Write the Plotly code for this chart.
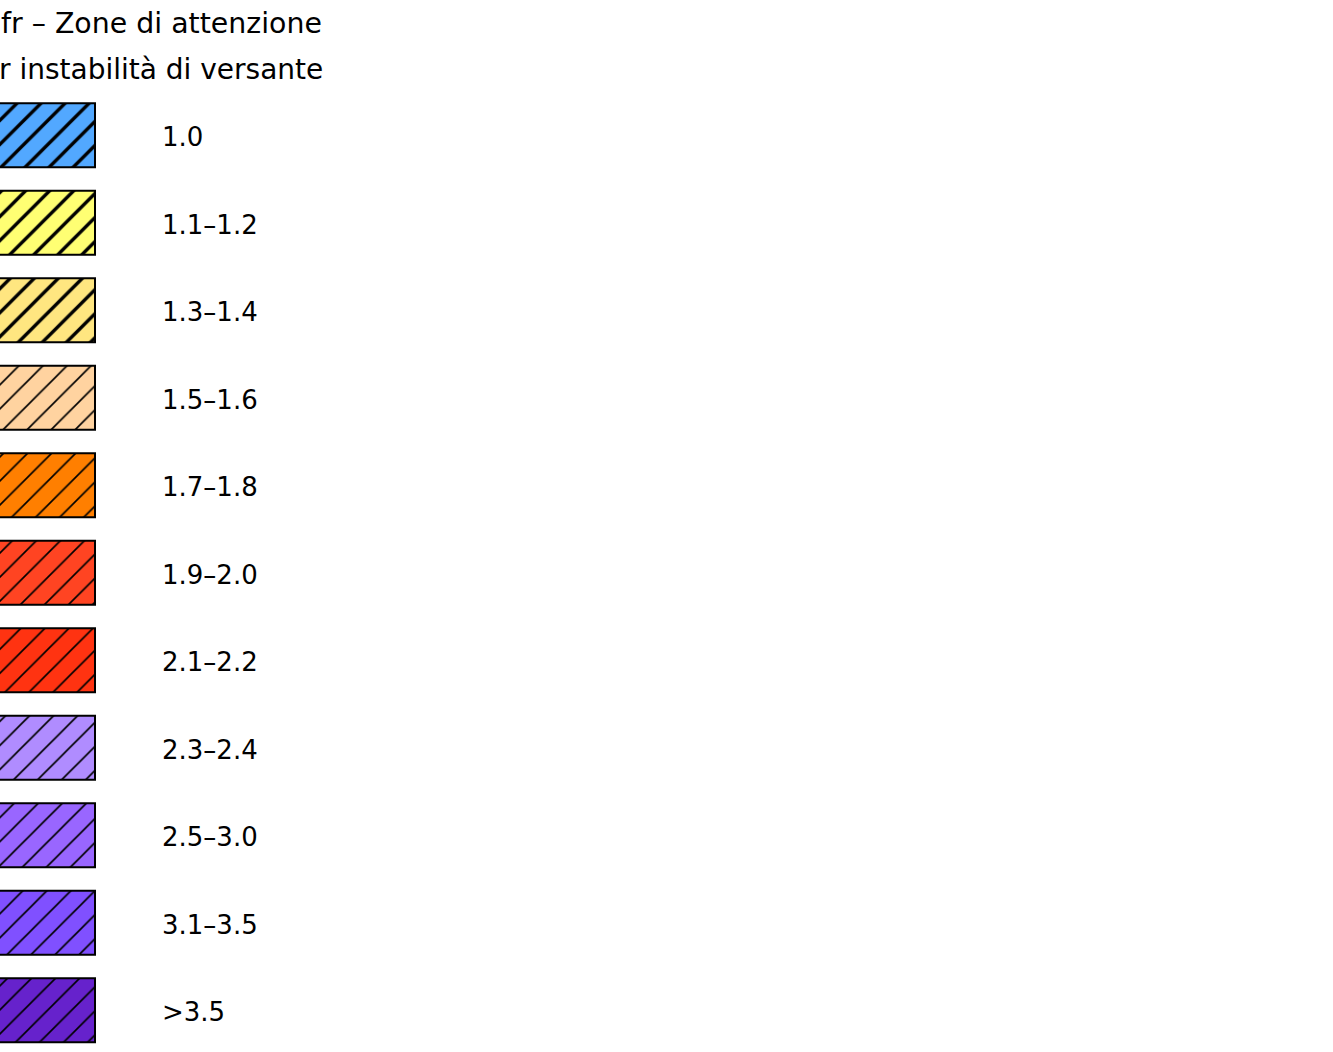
import plotly.graph_objects as go

# ---- data ----
classes = ["1.0", "1.1–1.2", "1.3–1.4", "1.5–1.6", "1.7–1.8", "1.9–2.0",
           "2.1–2.2", "2.3–2.4", "2.5–3.0", "3.1–3.5", ">3.5"]
colors = ["#52A8FF", "#FFFF73", "#FFE680", "#FFD3A0", "#FF7F00", "#FF4422",
          "#FF3311", "#B08CFF", "#9966FF", "#8050FF", "#6622CC"]
hatch_weight = [0.2, 0.2, 0.2, 0.1, 0.1, 0.1, 0.1, 0.1, 0.1, 0.1, 0.1]
swatch_length = [155, 155, 155, 155, 155, 155, 155, 155, 155, 155, 155]
title_lines = ["fr – Zone di attenzione", "r instabilità di versante"]

FONT = "DejaVu Sans"
W, H = 1333, 1052
row_px = 87.5
first_center_px = 135.3
swatch_base = -60
label_x = 160

fig = go.Figure()

for cls, col, sol, ln in zip(classes, colors, hatch_weight, swatch_length):
    fig.add_trace(go.Bar(
        y=[cls], x=[ln], base=[swatch_base], orientation="h",
        width=0.731,
        marker=dict(color=col,
                    line=dict(color="black", width=2),
                    pattern=dict(shape="/", fgcolor="black", bgcolor=col,
                                 size=17, solidity=sol, fillmode="overlay",
                                 fgopacity=1)),
        showlegend=False, hoverinfo="skip"))

top = -first_center_px / row_px
bottom = (H - first_center_px) / row_px

# category axis: annotation positions given as category index
label_annotations = [
    dict(text=cls, xref="x", yref="y", x=label_x, y=i, xanchor="left",
         yanchor="middle", yshift=-2, showarrow=False,
         font=dict(family=FONT, size=26, color="black"))
    for i, cls in enumerate(classes)
]

fig.update_layout(
    width=W, height=H,
    margin=dict(l=0, r=0, t=0, b=0),
    paper_bgcolor="white", plot_bgcolor="white",
    barmode="overlay",
    xaxis=dict(range=[0, W], visible=False, fixedrange=True),
    yaxis=dict(type="category", categoryorder="array", categoryarray=classes,
               range=[bottom, top], visible=False, fixedrange=True),
    annotations=label_annotations + [
        dict(text=title_lines[0], xref="x", yref="paper", x=324, y=1 - 24 / H,
             xanchor="right", yanchor="middle", showarrow=False,
             font=dict(family=FONT, size=28.4, color="black")),
        dict(text=title_lines[1], xref="x", yref="paper", x=325, y=1 - 69 / H,
             xanchor="right", yanchor="middle", showarrow=False,
             font=dict(family=FONT, size=28, color="black")),
    ],
)

fig.write_html("out.html", config={"displayModeBar": False},
               post_script="document.body.style.margin='0';")
